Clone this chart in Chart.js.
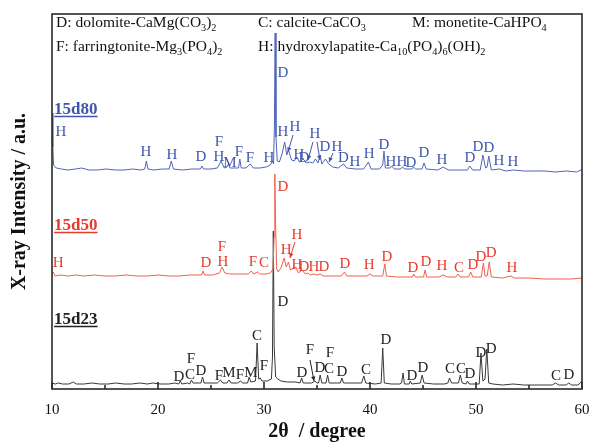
<!DOCTYPE html>
<html>
<head>
<meta charset="utf-8">
<script src="https://cdn.jsdelivr.net/npm/chart.js@4.4.1/dist/chart.umd.min.js"></script>
<style>
  body { margin: 0; background: #fff; }
  #wrap { width: 590px; height: 445px; }
</style>
</head>
<body>
<div id="wrap"><canvas id="myChart"></canvas></div>
<script>
// traces: [2theta, offset intensity]
const d23 = [[10.0,4],[10.3,3],[10.6,4],[11.0,3],[11.6,3],[12.0,5],[12.3,3],[13.0,3],[13.8,4],[14.5,3],[15.3,3],[16.0,4],[16.8,3],[17.5,3],[18.3,4],[19.0,3],[19.5,4],[20.2,3],[21.0,3],[21.6,4],[21.95,3],[22.1,6],[22.25,3],[22.8,4],[23.0,3],[23.15,7],[23.3,4],[23.9,4],[24.05,4],[24.2,10],[24.35,4],[25.0,4],[25.6,4],[25.9,7],[26.1,4],[26.5,4],[26.7,7],[26.9,4],[27.5,4],[27.8,6],[28.0,4],[28.45,4],[28.6,10],[28.75,5],[29.2,6],[29.35,44],[29.5,8],[29.65,9],[29.8,6],[30.3,6],[30.7,8],[30.8,30],[30.88,156],[30.96,40],[31.1,10],[31.3,8],[31.6,6],[32.2,5],[33.0,5],[33.4,4],[33.55,9],[33.7,4],[34.5,4],[34.8,6],[35.0,4],[35.15,4],[35.3,12],[35.45,4],[35.85,4],[36.0,12],[36.15,4],[36.8,4],[37.2,4],[37.35,9],[37.5,4],[38.3,4],[39.2,4],[39.42,11],[39.6,4],[40.5,3],[41.05,4],[41.2,39],[41.35,4],[42.0,3],[42.8,3],[42.98,4],[43.12,14],[43.25,3],[43.7,3],[43.8,6],[43.95,3],[44.75,4],[44.92,12],[45.1,4],[46.0,3],[47.0,3],[47.35,4],[47.5,9],[47.7,4],[48.35,4],[48.52,12],[48.7,4],[49.05,3],[49.2,6],[49.35,3],[50.3,3],[50.47,34],[50.65,6],[50.85,8],[51.02,38],[51.2,4],[51.6,3],[52.5,2],[53.5,3],[54.5,2],[55.5,2],[56.5,2],[57.2,2],[57.5,4],[57.8,2],[58.5,2],[58.75,4],[59.0,2],[59.6,2],[59.85,4],[60.0,6]];

const d50 = [[10.0,113],[10.1,115],[10.3,111],[10.8,112],[11.5,111],[12.3,112],[13.0,111],[14.0,112],[15.0,111],[16.0,111],[17.0,112],[18.0,111],[19.0,111],[20.0,112],[21.0,111],[22.0,111],[23.0,112],[23.8,112],[24.1,112],[24.25,116],[24.4,112],[25.2,112],[25.8,114],[26.05,120],[26.3,114],[26.8,113],[27.6,113],[28.5,113],[28.8,116],[29.0,113],[29.4,115],[29.6,113],[30.2,113],[30.6,114],[30.85,118],[30.95,150],[31.02,213],[31.1,160],[31.2,118],[31.35,115],[31.6,119],[31.9,129],[32.1,120],[32.3,125],[32.5,117],[32.8,119],[33.0,120],[33.25,114],[33.6,117],[33.9,113],[34.1,114],[34.4,112],[34.7,113],[35.0,112],[35.3,113],[35.6,111],[36.5,111],[37.3,111],[37.6,115],[37.8,111],[38.8,111],[39.7,111],[40.0,113],[40.3,111],[41.2,111],[41.4,123],[41.55,111],[42.5,110],[43.5,110],[44.0,110],[44.12,113],[44.3,110],[45.05,110],[45.2,117],[45.35,110],[46.5,110],[46.9,112],[47.3,110],[48.1,110],[48.3,113],[48.5,110],[49.3,110],[49.5,115],[49.7,110],[50.5,110],[50.7,124],[50.85,111],[51.05,111],[51.25,125],[51.45,110],[52.5,109],[53.3,111],[53.6,109],[55.0,109],[56.5,108],[58.0,108],[59.0,108],[60.0,109]];

const d80 = [[10.0,274],[10.08,240],[10.15,222],[10.4,219],[10.9,218],[11.5,217],[12.2,218],[12.8,219],[13.5,217],[14.3,217],[15.1,218],[16.0,217],[16.8,217],[17.6,218],[18.4,217],[18.75,218],[18.9,226],[19.05,218],[19.6,217],[20.4,218],[21.05,218],[21.25,226],[21.45,218],[22.3,217],[23.2,218],[24.0,218],[24.15,221],[24.3,218],[25.0,218],[25.6,219],[25.95,226],[26.25,219],[26.5,220],[26.65,223],[26.8,219],[27.3,219],[27.6,219],[27.72,228],[27.85,219],[28.3,219],[28.7,223],[29.0,219],[29.6,219],[30.2,220],[30.6,222],[30.8,226],[30.9,223],[30.98,260],[31.05,354],[31.13,250],[31.25,226],[31.45,225],[31.7,233],[31.95,245],[32.15,232],[32.3,237],[32.6,227],[32.85,226],[33.1,230],[33.35,225],[33.7,228],[34.0,224],[34.3,225],[34.6,224],[34.85,228],[35.1,224],[35.3,232],[35.45,223],[35.8,228],[36.1,223],[36.5,220],[37.0,219],[37.5,223],[37.8,219],[38.6,218],[39.4,218],[39.85,225],[40.1,218],[40.9,218],[41.2,222],[41.32,236],[41.45,219],[41.9,219],[42.05,221],[42.3,218],[42.9,218],[43.05,220],[43.3,218],[43.95,218],[44.1,220],[44.3,218],[44.9,218],[45.1,224],[45.3,218],[46.4,217],[46.9,220],[47.4,217],[48.4,217],[49.2,217],[49.4,221],[49.7,217],[50.4,217],[50.65,232],[50.9,219],[51.05,220],[51.2,231],[51.45,217],[52.2,218],[52.8,216],[53.5,217],[54.5,216],[55.5,216],[56.5,216],[57.5,215],[58.5,216],[59.5,215],[59.9,217],[60.0,218]];

// phase marks: [letter, 2theta, height]
const d80Marks = [['H',10.85,255],['H',18.87,235],['H',21.32,232],['D',24.06,230],['F',25.75,245],['H',25.75,230],['M',26.79,224],['F',27.64,235],['F',28.68,229],['H',30.47,229],['D',31.79,314],['H',31.79,255],['H',32.92,260],['H',33.3,232],['D',33.77,229],['H',34.81,253],['D',35.75,240],['H',36.89,240],['D',37.5,229],['H',38.58,225],['H',39.91,233],['D',41.32,242],['H',41.98,225],['H',43.02,225],['D',43.87,224],['D',45.09,234],['H',46.79,227],['D',49.43,229],['D',50.19,240],['D',51.23,239],['H',52.17,226],['H',53.49,225]];
const d50Marks = [['H',10.57,124],['D',24.53,124],['F',26.04,140],['H',26.13,125],['F',28.96,125],['C',30.0,124],['D',31.79,200],['H',32.08,137],['H',33.11,152],['H',33.11,122],['D',33.77,120],['H',34.72,120],['D',35.66,120],['D',37.64,123],['H',39.91,122],['D',41.6,130],['D',44.06,119],['D',45.28,125],['H',46.79,121],['C',48.4,119],['D',49.72,122],['D',50.47,130],['D',51.42,134],['H',53.4,119]];
const d23Marks = [['D',21.98,10],['C',23.02,12],['F',23.11,28],['D',24.06,16],['F',25.75,11],['M',26.7,14],['F',27.74,12],['M',28.77,14],['C',29.34,51],['F',30.0,21],['D',31.79,85],['D',33.58,14],['F',34.34,37],['D',35.28,19],['C',36.13,18],['F',36.23,34],['D',37.36,15],['C',39.62,17],['D',41.51,47],['D',43.96,11],['D',45.0,19],['C',47.55,18],['C',48.58,18],['D',49.43,13],['D',50.47,34],['D',51.42,38],['C',57.55,11],['D',58.77,12]];

// arrows: [from 2theta, from height, to 2theta, to height]
const d80Arrows = [[32.74,252,32.26,235],[34.62,245,34.15,227],[35.0,245,35.28,227],[36.51,234,36.13,225]];
const d50Arrows = [[32.92,145,32.45,129]];
const d23Arrows = [[34.34,27,34.72,6]];

const sampleNames = ['15d80', '15d50', '15d23'];
const sampleNamePos = [[10.2,279],[10.2,163],[10.2,69]];
const phaseLegend = [['D: dolomite-CaMg(CO_3)_2','C: calcite-CaCO_3','M: monetite-CaHPO_4'],
                     ['F: farringtonite-Mg_3(PO_4)_2','H: hydroxylapatite-Ca_10(PO_4)_6(OH)_2']];
const xMajor = [10, 20, 30, 40, 50, 60];
const xMinor = [15, 25, 35, 45, 55];

const BLUE = '#3f56ae', RED = '#e8392b', BLACK = '#222';
const SERIF = '"Liberation Serif", "DejaVu Serif", serif';

function pts(arr) { return arr.map(p => ({x: p[0], y: p[1]})); }

// draws a string with _digits as subscripts
function drawSub(ctx, str, x, y, size) {
  const parts = str.split(/(_\d+)/);
  parts.forEach(p => {
    if (!p) return;
    if (p[0] === '_') {
      ctx.font = (size * 0.66) + 'px ' + SERIF;
      ctx.fillText(p.slice(1), x, y + size * 0.28);
      x += ctx.measureText(p.slice(1)).width;
    } else {
      ctx.font = size + 'px ' + SERIF;
      ctx.fillText(p, x, y);
      x += ctx.measureText(p).width;
    }
  });
}

function arrow(ctx, x1, y1, x2, y2) {
  ctx.beginPath(); ctx.moveTo(x1, y1); ctx.lineTo(x2, y2); ctx.stroke();
  const a = Math.atan2(y2 - y1, x2 - x1), L = 5;
  ctx.beginPath();
  ctx.moveTo(x2, y2);
  ctx.lineTo(x2 - L * Math.cos(a - 0.45), y2 - L * Math.sin(a - 0.45));
  ctx.lineTo(x2 - L * Math.cos(a + 0.45), y2 - L * Math.sin(a + 0.45));
  ctx.closePath(); ctx.fill();
}

const marksPlugin = {
  id: 'marks',
  afterDatasetsDraw(chart) {
    const {ctx, chartArea: a, scales: {x, y}} = chart;
    ctx.save();
    const sets = [[d80Marks, d80Arrows, BLUE], [d50Marks, d50Arrows, RED], [d23Marks, d23Arrows, BLACK]];
    sets.forEach(([marks, arrows, col], i) => {
      ctx.fillStyle = col; ctx.strokeStyle = col; ctx.lineWidth = 1;
      ctx.font = '15px ' + SERIF;
      ctx.textAlign = 'center'; ctx.textBaseline = 'middle';
      marks.forEach(m => ctx.fillText(m[0], x.getPixelForValue(m[1]), y.getPixelForValue(m[2])));
      arrows.forEach(r => arrow(ctx, x.getPixelForValue(r[0]), y.getPixelForValue(r[1]),
                                x.getPixelForValue(r[2]), y.getPixelForValue(r[3])));
      // sample name, bold + underlined
      ctx.font = 'bold 17px ' + SERIF;
      ctx.textAlign = 'left'; ctx.textBaseline = 'alphabetic';
      const px = x.getPixelForValue(sampleNamePos[i][0]), py = y.getPixelForValue(sampleNamePos[i][1]) + 6;
      ctx.fillText(sampleNames[i], px, py);
      const w = ctx.measureText(sampleNames[i]).width;
      ctx.lineWidth = 1.5;
      ctx.beginPath(); ctx.moveTo(px, py + 2.5); ctx.lineTo(px + w, py + 2.5); ctx.stroke();
    });
    // phase legend
    ctx.fillStyle = '#111';
    ctx.textAlign = 'left'; ctx.textBaseline = 'alphabetic';
    const colX = [56, 258, 412], rowY = [27, 51];
    phaseLegend.forEach((row, r) => row.forEach((s, c) => drawSub(ctx, s, colX[c], rowY[r], 15.5)));
    ctx.restore();
  },
  afterDraw(chart) {
    const {ctx, chartArea: a, scales: {x}} = chart;
    ctx.save();
    ctx.strokeStyle = '#2a2a2a'; ctx.lineWidth = 1.6;
    ctx.strokeRect(a.left, a.top, a.right - a.left, a.bottom - a.top);
    ctx.beginPath();
    xMajor.forEach(v => { const p = x.getPixelForValue(v); ctx.moveTo(p, a.bottom); ctx.lineTo(p, a.bottom - 7); });
    xMinor.forEach(v => { const p = x.getPixelForValue(v); ctx.moveTo(p, a.bottom); ctx.lineTo(p, a.bottom - 4); });
    ctx.stroke();
    ctx.restore();
  }
};

const ctx = document.getElementById('myChart');
const myChart = new Chart(ctx, {
  type: 'line',
  data: {
    datasets: [
      { data: pts(d80), borderColor: '#5065b5', borderWidth: 1, pointRadius: 0, fill: false },
      { data: pts(d50), borderColor: '#f0604d', borderWidth: 1, pointRadius: 0, fill: false },
      { data: pts(d23), borderColor: '#383838', borderWidth: 1, pointRadius: 0, fill: false }
    ]
  },
  options: {
    responsive: true,
    maintainAspectRatio: false,
    animation: false,
    layout: { padding: { top: 14, right: 8, left: 0, bottom: 0 } },
    plugins: { legend: { display: false }, tooltip: { enabled: false } },
    scales: {
      x: {
        type: 'linear', min: 10, max: 60,
        grid: { display: false, drawTicks: false },
        border: { display: false },
        ticks: { stepSize: 10, padding: 12, color: '#111', font: { family: SERIF, size: 15 } },
        title: { display: true, text: '2\u03b8  / degree', color: '#111',
                 font: { family: SERIF, size: 20, weight: 'bold' }, padding: { top: 0, bottom: 1 } },
        afterFit(s) { s.height = 56; s.paddingLeft = 0; s.paddingRight = 0; }
      },
      y: {
        min: -2, max: 373,
        grid: { display: false, drawTicks: false },
        border: { display: false },
        ticks: { display: false },
        title: { display: true, text: 'X-ray Intensity / a.u.', color: '#111',
                 font: { family: SERIF, size: 20, weight: 'bold' }, padding: { top: 8, bottom: 0 } },
        afterFit(s) { s.width = 52; s.paddingTop = 0; s.paddingBottom = 0; }
      }
    }
  },
  plugins: [marksPlugin]
});
</script>
</body>
</html>
